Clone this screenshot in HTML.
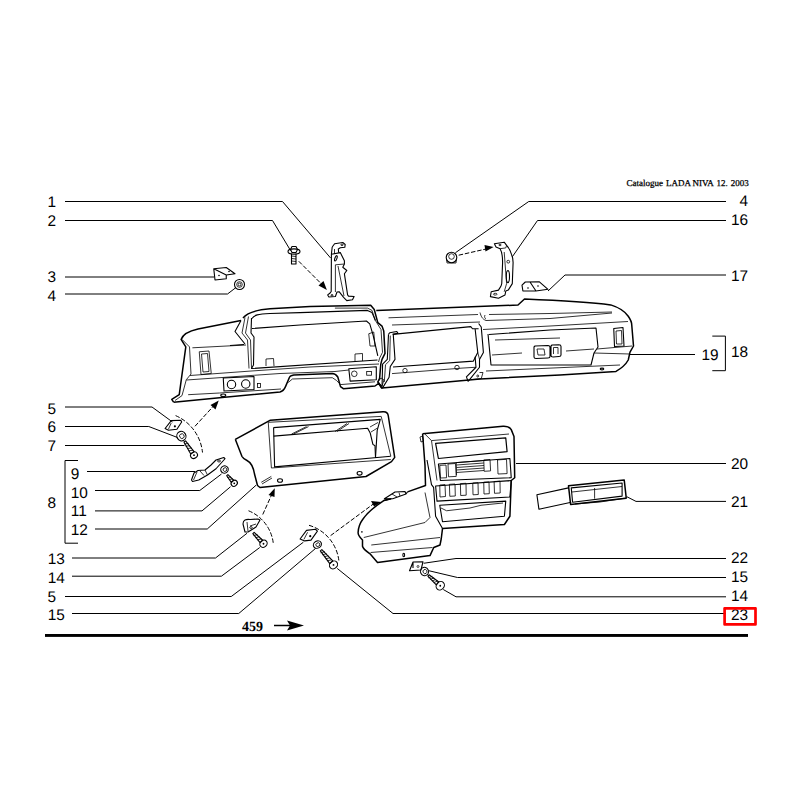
<!DOCTYPE html>
<html><head><meta charset="utf-8"><style>
html,body{margin:0;padding:0;background:#fff;width:800px;height:800px;overflow:hidden}
svg{position:absolute;left:0;top:0}
text{font-family:"Liberation Sans",sans-serif;font-size:15.4px;fill:#000;text-rendering:geometricPrecision}
.cat{font-family:"Liberation Serif",serif;font-size:9px;stroke:#000;stroke-width:0.25}
.pg{font-family:"Liberation Serif",serif;font-weight:bold;font-size:14px}
.l{fill:none;stroke:#000;stroke-width:1}
.p{fill:#fff;stroke:#000;stroke-width:1;stroke-linejoin:round}
.t{fill:none;stroke:#000;stroke-width:0.8}
.o{fill:none;stroke:#000;stroke-width:1.5;stroke-linejoin:round}
.m{fill:none;stroke:#000;stroke-width:1.1;stroke-linejoin:round}
.d{fill:none;stroke:#000;stroke-width:1;stroke-dasharray:4.5 1.8}
</style></head><body>
<svg width="800" height="800" viewBox="0 0 800 800">
<!-- header -->
<g class="catg"><text class="cat" x="626.5" y="186">Catalogue</text><text class="cat" x="666" y="186">LADA</text><text class="cat" x="692.4" y="186">NIVA</text><text class="cat" x="716.6" y="186">12.</text><text class="cat" x="730.7" y="186">2003</text></g>
<!-- LEFT LABELS -->
<g id="leftlabels" transform="translate(0,-0.5)">
<text x="47.5" y="207">1</text>
<text x="47.5" y="226.5">2</text>
<text x="47.5" y="282">3</text>
<text x="47.5" y="301">4</text>
<text x="47.5" y="414">5</text>
<text x="47.5" y="432">6</text>
<text x="47.5" y="451">7</text>
<text x="47.5" y="508">8</text>
<text x="70.8" y="479">9</text>
<text x="70.8" y="498">10</text>
<text x="70.8" y="516">11</text>
<text x="70.8" y="535">12</text>
<text x="47.7" y="564.5">13</text>
<text x="47.7" y="583.5">14</text>
<text x="47.5" y="602">5</text>
<text x="47.7" y="620.5">15</text>
</g>
<g id="rightlabels" text-anchor="end" transform="translate(0,-0.5)">
<text x="748" y="206">4</text>
<text x="748" y="225.5">16</text>
<text x="748" y="281">17</text>
<text x="718.5" y="360">19</text>
<text x="748" y="357">18</text>
<text x="748" y="469">20</text>
<text x="748" y="507">21</text>
<text x="748" y="563.5">22</text>
<text x="748" y="582">15</text>
<text x="748" y="601.5">14</text>
<text x="748" y="620.5">23</text>
</g>
<g id="leaders" class="l">
<polyline class="l" points="65,201.5 282.5,201.5 330.6,258"/>
<polyline class="l" points="65,220.5 272.5,220.5 290.6,250.6"/>
<polyline class="l" points="65,277 214,277"/>
<polyline class="l" points="65,294 227.5,294 236,287.5"/>
<polyline class="l" points="65,407 152,407 172.5,422"/>
<polyline class="l" points="65,426.5 148.75,426.5 177.5,437.5"/>
<polyline class="l" points="65,445.5 184.4,445.5"/>
<polyline class="l" points="78,460.5 65,460.5 65,543.2 78,543.2"/>
<polyline class="l" points="87,471.5 195,471.5"/>
<polyline class="l" points="95,490.5 199.75,490.5 221.5,474"/>
<polyline class="l" points="95,510.9 202,510.9 230.5,486.75"/>
<polyline class="l" points="95,529 207.25,529 256,485.25"/>
<polyline class="l" points="72,558 215.5,558 247,533.25"/>
<polyline class="l" points="72,576.2 221.4,576.2 259.75,547.5"/>
<polyline class="l" points="65,596.5 231.25,596.5 303.4,542.2"/>
<polyline class="l" points="72,613.5 238.75,613.5 315.6,548.4"/>
<!-- right -->
<polyline class="l" points="726,201.5 528.75,201.5 455.4,252.75"/>
<polyline class="l" points="726,220.5 537.5,220.5 512.3,256.8"/>
<polyline class="l" points="726,275 565,275 548,291"/>
<polyline class="l" points="630,354.5 695,354.5"/>
<polyline class="l" points="712.3,336.1 725.4,336.1 725.4,370.7 712.3,370.7"/>
<polyline class="l" points="726,463.5 516,463.5"/>
<polyline class="l" points="726,501.4 636,501.4 627,496.8"/>
<polyline class="l" points="726,558.5 456,558.5 423.75,563.25"/>
<polyline class="l" points="726,577.5 457.5,577.5 429,570.75"/>
<polyline class="l" points="726,596.8 456,596.8 443.25,589.5"/>
<polyline class="l" points="726,613.5 393,613.5 337.2,568.4"/>
</g>
<rect x="724.6" y="608.3" width="30.9" height="16.1" fill="none" stroke="#ff0000" stroke-width="2.7" stroke-linejoin="round"/>
<!-- page ref -->
<text class="pg" x="242" y="631">459</text>
<line x1="274" y1="625.5" x2="292" y2="625.5" stroke="#000" stroke-width="1.5"/>
<path d="M287,620.5 L304,625.5 L287,630.5 L290,625.5 Z" fill="#000"/>
<rect x="45" y="634" width="703" height="2.9" fill="#000"/>
<g id="parts">
<g id="dash">
<!-- outer silhouette -->
<path class="o" d="M173.6,402.2 L171.75,399.4 L179.25,394.7 L185.8,346.9 L181.1,339.4 C183,334 189,331 198,329 L241,320.5"/>
<path class="t" d="M182,339.4 L189.5,346.9 L191,374 L186.3,379.7 L182,395.6 L175,400.5"/>
<path class="o" d="M243,318 C247,313 254,310 270,308.75 L310,306.5 L370.7,305.3 L374.25,309.5 L377.8,322.6 L382,326.1 L383.75,330.9 L385,353.4 L382,359.4 L380.8,364.1 L379.6,378.4 L377.8,382 L382,388.5"/>
<path class="o" d="M376.25,310.6 L518,305 L524.5,299 C560,300.5 600,303.5 610.75,304.9 C619,307.5 625,311.5 628.25,316.25 C630.5,319.5 631.75,322 631.75,325 L633.5,346 L630,352.2 L628.25,360 C626,364 622,368 616,371.4 L560,375 L480,379 L382,388"/>
<path class="o" d="M381.25,387.5 L379,383.2 L375,386 L343.3,388.7 L340.5,386.6 L337.8,377 C336,374.5 334.5,373.6 332.3,373.6 L293.75,375 C291,375.5 290,376 289.6,377 L285.5,386.6 C284,390 282,391.5 280,392 L219.5,397.8 L173.6,402.2"/>
<!-- hood opening -->
<path class="t" d="M334.9,308.1 L367.5,308.1 L372,310.4 L375.4,320.5 L381,329.5 L382.5,352.3 L379.6,358.2 L378.5,362"/>
<path class="m" d="M252,318.5 C254,315 258,314 270,313.5 L300,312.6 L367.5,310.4 L372,312.6 L375.4,320.5"/>
<path class="m" d="M251.5,318 L251,333 L254,337 L253.5,365 L251.5,368.5 L377.5,360"/>
<path class="m" d="M252,328.5 L300,325 L366.4,321 L369.75,323.9 L373.1,335.1 L377.8,355.8"/>
<path class="t" d="M245,317.5 L242,333 L247.5,340 L249,368.5"/>
<path class="t" d="M248.5,316.5 L245.5,333 L250.5,340 L251.5,368"/>
<path class="m" d="M241,320.5 L235,331.5 L245,344 M230,345.5 L244,344.5"/>
<path class="t" d="M368.75,333.75 L373.75,332 L375,346 L370,346 Z"/>
<path class="t" d="M266,366 L266,359 L273.5,358.5 L274,366 M355,361.25 L355,354 L362.5,353.5 L362.5,361"/>
<!-- lower panel lines -->
<path class="t" d="M190,375.5 L250,371.1 L310,367 L379,364"/>
<path class="t" d="M186.5,380 L254.5,375.25 L280,373.5 L335,371.5 L348.8,370"/>
<path class="t" d="M288.25,382.5 L292.4,379 L332.3,377.7 L336.4,380.4 L340.5,384.6 L375,381.8"/>
<path class="t" d="M188.15,394.7 L219.5,393 L281,389"/>

<!-- left section inner -->
<path class="t" d="M192.4,347.8 L246,345"/>
<path class="t" d="M199.25,351.75 L209,351 L211.25,373.5 L201,374.5 Z M201.5,354 L207.5,353.5 L209,371.5 L203,372 Z"/>
<path class="m" d="M223.25,378 L254,376.5 L254,389.5 L224,391 Z"/>
<circle class="m" cx="231.5" cy="384.5" r="4.2"/>
<circle class="m" cx="245.75" cy="384" r="4.2"/>
<rect class="t" x="257.5" y="383.5" width="3" height="4"/>
<ellipse class="m" cx="223.25" cy="395.25" rx="2.5" ry="1.3"/>
<!-- light switch -->
<path class="m" d="M348.8,368.75 L376.3,366.7 L376.3,379.75 L350.15,381.1 Z"/>
<circle class="t" cx="354.3" cy="373.8" r="2.8"/>
<rect class="t" x="366.7" y="371.5" width="4.8" height="3.7"/>
<!-- center column -->
<path class="m" d="M388.5,334.4 L387.3,359.4 L382.6,364.1 L382,388.5"/>
<path class="m" d="M388.5,334.4 L389.7,332.7 L396.8,331.5 L398,333.25 L392.7,334.4 M393.25,334.4 L395,359.4 L390.3,366.5 L389.1,377.2 L382.6,387.9"/>
<path class="t" d="M390.3,335.6 L389.7,360.6 L385.5,364.7 L384.3,382"/>
<path class="t" d="M377.8,382 L381,378 L384,380 L382,386 Z"/>
<path class="t" d="M388.5,317.8 L478,314.5 M392,325 L480,322"/>
<!-- radio opening -->
<path class="m" d="M392.7,334.4 L470.75,326.6 L472.5,328.75 L478.6,328.75 M475.1,328.75 L477.75,352.4 L473.4,361.1 L393,367"/>
<path class="t" d="M392,373.6 L462,368.1 L476,367.25"/>
<circle class="t" cx="405" cy="370.6" r="2.2"/>
<circle class="t" cx="457" cy="367.5" r="2.2"/>
<!-- right column -->
<path class="m" d="M478.6,323.5 L481.25,327 L483.4,352.4 L479.5,359.4 L479.5,367.25 L469,380.4 L468.1,381.25 L466.4,376.9 L476,367.25 L475.1,356.75"/>
<path class="t" d="M477.75,352.4 L479.5,359.4 M479.5,372.5 L483,372.5 L481.25,378.6 L472.5,379.5"/>
<circle class="t" cx="477.75" cy="376" r="1"/>
<!-- right section -->
<path class="t" d="M489,314.5 L550,313.5 L612,312 M480,312.5 C481,316 482,319 486,320.5 L550,318.5 L612,313 M485,315 C484,317 485,318.5 486,319"/>
<path class="t" d="M483,329.5 L550,326 L628,321.5"/>
<path class="m" d="M489,334.5 L550,330 L596,328 L598,347 L594,353 L591,365 L491,365 L488,334"/>
<path class="t" d="M597,349 L632,346 M594,353 L630,354 M486,371 L620,365 M492,355 L522,353 M566,351 L594,349 M495,340 L560,338"/>
<path class="m" d="M535,346 L548,345.5 C549.5,345.5 550,346.5 550,347.5 L550,356.5 C550,357.5 549,358 548,358 L536,358.5 C535,358.5 534,358 534,357 L534,347 Z M552,345 L559,344.7 C560,344.7 561,345.5 561,346.5 L561,355 C561,356 560,356.5 559,356.5 L553,357 C552,357 551,356.5 551,355.5 L551,346 Z"/>
<path class="t" d="M537,349 L544,349 L545,355 L538,355 Z M553.5,347.5 L558,347.5 L558,354 M553.5,347.5 L553.5,354"/>
<path class="m" d="M613.75,328.5 L623,327.5 L624,346 L614.5,346.5 Z"/>
<path class="t" d="M616,331 L621.5,330.5 L622,344 L616.5,344 Z"/>
<ellipse class="m" cx="602" cy="369" rx="1.8" ry="0.9"/>
</g>

<g id="cluster">
<path class="o" d="M235.3,439.3 L270.4,420.2 L383,411.7 C386,411.5 388,413 388.3,416 L394.7,457.4 L391.5,461.6 L366,476.5 L260,487.5 L257.5,485.5 L254.5,474 C253.5,468 252,463 247,460.5 C244,459 242.5,457.5 242,456.5 L235.3,439.3"/>
<path class="t" d="M268.25,422.3 L381.2,416.4 L390.8,456.2 M268.25,422.3 L271.4,468 L390.8,459.5"/>
<path class="m" d="M273.6,427.6 L380.3,419.4 L377.2,430.4 L375.5,457.5 M273.6,427.6 L274.6,466.9 L390.8,456.2"/>
<path class="m" d="M273.6,436.1 L367.6,428.2 L370.2,433 L372.9,444.4 L375,445.7 L375.5,457.5"/>
<path class="t" d="M291.6,434 L306.5,426.6 M293.6,434 L308.5,426.6 M335,431.5 L347,423.5 M337,431.5 L349,423.5 M370,427 L378,422.5 M371,432 L377.5,428"/>
<path class="t" d="M261.25,482.3 L271.25,476.4 M262,484 L272,478"/>
<ellipse class="m" cx="280" cy="480.5" rx="2.5" ry="1.8"/>
<ellipse class="m" cx="359.6" cy="473.3" rx="2.5" ry="1.8"/>
</g>
<g id="console">
<path class="o" d="M422.6,433.75 L503,426.2 C507,426 510,427.5 511.25,429.6 L514,436.5 L514.7,477.75 L511.25,480.5 L509.9,516.25 L504.4,524.5 L442.5,528.6 L441.25,538.75 L440,545 L433.75,547.5 L430,555.6 L377.5,562.5 L370,553.75 C366,551 363,549 362.5,546.25 L362.5,540 C359.5,537 358,535 358.1,532.5 C358.3,528 360,523 363,519 C367,513 374,507 383.75,500.6 L391.25,498.75 M407.5,491.9 L425.5,485.5 L425,465.4 L422.6,433.75"/>
<path class="m" d="M383.75,500.6 L391.25,498.75 M406,494 L407.5,491.9 M384.4,498.7 L395,492 L405,491.5 L406,494 L392.7,498.7 Z"/><path class="t" d="M392,494 L397,497 M399,492.5 L400,496"/>
<path class="t" d="M420,437 L422.6,436 L423.5,441 L421,442 Z"/>
<path class="t" d="M424.6,433.75 L431.5,440.6 L437,480.5 M431.5,440.6 L509,434"/>
<path class="m" d="M427,460 L431.5,484.6 L433.6,487.4 L435.6,516.25 L442.5,528.6"/>
<path class="t" d="M425,492.5 L430,517.5 L425,522.5 L363.75,537.5 M371.25,545 L440,537.5 M370.6,552.5 L432.5,547.5"/>
<path class="o" d="M435.6,443.4 L505.75,437.9 L507.1,451.6 L438.4,458.5 Z" style="stroke-width:1.2"/>
<path class="m" d="M438.4,464 L509.9,458.5 L511.25,477.75 L440.4,480.5 Z"/>
<path class="t" d="M439.75,465.4 L446,465 L446.6,477.75 L440.5,478 Z M448,464 L455.5,463.5 L456.25,476.4 L448.5,476.8 Z M483.75,459.9 L490,459.5 L490.6,470.9 L484.2,471.3 Z M497.5,459.9 L506.5,459.3 L507.1,473.6 L498,474 Z"/>
<path class="t" d="M456.25,462.6 L483.75,460.5 M456.5,465 L483.75,463 M456.5,467.5 L484,465.5 M456.5,470 L484,468 M456.5,472.5 L484,470.5 M456.25,462.6 L456.5,475"/>
<path class="m" d="M435.6,486 L511.25,480.5 L509.9,497 L437,501.1 Z"/>
<path class="t" d="M439.75,485 L445,484.6 L445.5,496.5 L440,497 Z M449.4,484.3 L455,484 L455.3,496 L449.8,496.3 Z M460.4,483.6 L466,483.3 L466.2,495.2 L460.7,495.5 Z M472.75,483 L478,482.7 L478.3,494.5 L473,494.8 Z M483.75,482.2 L489,482 L489.3,493.7 L484,494 Z M494.1,481.5 L500,481.2 L500.2,493 L494.5,493.3 Z"/>
<path class="m" d="M439.75,505.25 L505.75,501.1 L504.4,516.25 L442.5,521.75 Z"/>
<path class="t" d="M441,508 L446.6,510.75 L470,508 L481,505.25 L503,503"/>
<ellipse class="m" cx="403.75" cy="555" rx="0.9" ry="1.8"/>
<circle cx="361.9" cy="531.9" r="0.8" fill="#000"/>
</g>
<g id="p21">
<path class="m" d="M568.5,487.9 L536.9,494.75 L538.9,509.2 L571.25,502.3"/>
<path class="o" d="M568.5,485.8 L624.2,479.9 L626.25,498.2 L570.6,504.4 Z"/>
<path class="m" d="M571.25,487.9 L622.1,483 L622.1,496.1 L572.6,502.3 Z"/>
<path class="t" d="M572,492 L622,486.5 M594.6,488 L594.6,498.7"/>
<path class="t" d="M575,504 L600,502 L626,498"/>
</g>
<g id="brackets">
<!-- bracket 3 -->
<path class="m" d="M213.75,268.75 L226.25,267.5 L235,273.75 L226.25,275 L226.25,278.75 L215,280 Z M213.75,268.75 L226.25,275"/>
<circle cx="229" cy="271.5" r="0.8" fill="#000"/><circle cx="219" cy="275.5" r="0.8" fill="#000"/>
<!-- nut 4 left -->
<circle class="m" cx="239.5" cy="284.5" r="5"/>
<circle class="t" cx="239.5" cy="284.5" r="2.8"/>
<circle class="t" cx="239.5" cy="284.5" r="1.4"/>
<!-- bolt 2 -->
<path class="m" d="M288,251.5 C288,248 300,248 300,251.5 C300,255 288,255 288,251.5 Z"/>
<path class="m" d="M290.5,249.5 L292,246.5 L296,246.5 L297.5,249.5 L296,252.5 L292,252.5 Z"/>
<path class="m" d="M291.5,253.5 L291.5,264 L296,264 L296,253.5"/>
<path class="t" d="M291.5,256 L296,256.5 M291.5,258.5 L296,259 M291.5,261 L296,261.5"/>
<!-- bracket 1 -->
<path class="m" d="M332.2,247 L334.6,243.7 L342.8,242.5 L345.2,244.5 L344.8,247.3 L340.3,247.75 L338.3,249 L338.7,252.6"/>
<path class="m" d="M332.2,247 L331.4,254.3 L331.2,291.5 L329.8,293.3 L327.7,294.9 L328.9,297 L335.4,296.5 L337,292 L339.1,291.7 L343.6,297.3 L346.8,300.6 L352.5,299.8 L354.1,296.5 L348.5,296.1 L347.6,294.9 L344.4,273.8 L346.8,270.5 L342.8,267.3 L344.4,264 L344.4,260.8 L340.3,252.6 L331.4,254.3"/>
<path class="t" d="M335.4,264.8 L335.4,292 M338,266 L344,296 M335.4,264.8 L344.4,264 M334.5,249 L334.5,254"/>
<ellipse class="t" cx="342" cy="244.8" rx="1.3" ry="0.7"/>
<ellipse class="m" cx="335.9" cy="258.3" rx="1" ry="2.8" transform="rotate(20 335.9 258.3)"/>
<ellipse class="t" cx="332" cy="295.2" rx="1.2" ry="0.6"/>
<!-- nut 4 right -->
<circle class="m" cx="451.5" cy="257.5" r="5.3"/>
<circle class="t" cx="451.5" cy="256.5" r="2.8"/>
<path class="t" d="M446.5,259 L447,263 L456,263 L456.5,259"/>
<!-- bracket 16 -->
<path class="m" d="M494.4,243.8 L504.2,242.2 L506.6,245.4 C509,248 510.5,251 511.5,254.4 C512.8,257 513.1,259 513.1,262.5 L512.3,283.6 L508.25,290.1 L505.8,291 L505,295 L498.5,298.25 L490.4,296.6 L491.2,291.75 L498.5,290.1 C500.5,287 501.75,285.5 501.75,283.6 L502.6,262.5 C502.6,256 501.5,251 500.1,248.7 L496,247 Z"/>
<path class="t" d="M500.1,248.7 L505.8,247.9 L506.6,245.4 M504.2,252 L506.6,283.6 L504.2,291.75"/>
<circle class="t" cx="508.25" cy="261.7" r="1.4"/>
<ellipse class="m" cx="507.9" cy="276.6" rx="1.6" ry="6" />
<ellipse class="t" cx="495.25" cy="294.2" rx="1.8" ry="0.9"/>
<ellipse class="t" cx="500" cy="245" rx="1.2" ry="0.7"/>
<!-- bracket 17 -->
<path class="m" d="M522,285.2 L525.3,282 L539.1,281.7 L548,289.3 L535.9,291 L522.9,291 Z M530,282 L536,291"/>
<circle cx="538" cy="286" r="0.8" fill="#000"/><circle cx="528" cy="288" r="0.8" fill="#000"/>
</g>
<g id="small">
<!-- clip 5 top -->
<path class="m" d="M165.1,428.5 L171.25,420.6 L180.8,420.3 L181.65,422 L176.9,429.3 L168.4,430.2 Z"/><path class="t" d="M171.25,422.9 L168.4,429.3"/><circle cx="174.9" cy="426.3" r="1.1" fill="#000"/>
<!-- washer 6 -->
<ellipse class="m" cx="181.4" cy="436.1" rx="4.5" ry="4.8" transform="rotate(-30 181.4 436.1)"/><ellipse class="t" cx="181.8" cy="436.40000000000003" rx="2.25" ry="2.40" transform="rotate(-30 181.4 436.1)"/>
<!-- screw 7 -->
<path class="m" d="M183.92,441.96 L190.74,453.92 L194.06,451.69 L185.58,440.84 Z"/><path class="t" d="M184.06,443.96 L188.50,443.40 M185.59,446.25 L190.03,445.68 M187.12,448.53 L191.56,447.96 M188.65,450.81 L193.09,450.24 "/><ellipse class="m" cx="194.00" cy="455.20" rx="3.06" ry="3.60" transform="rotate(56.2 194.00 455.20)"/><circle cx="194.00" cy="455.20" r="0.9" fill="#000"/>
<!-- bracket 9 -->
<path class="m" d="M191.5,480 L194,473 L198,470.5 L205,470 L211,465 L216,460 L223.75,457.5 L225,458.75 L216,468.75 L207.5,475 L198.75,480 L192.5,481.5 Z"/><path class="t" d="M197,472 L193.5,480 M200,471 L204,475.5 M205,470 L207.5,475"/>
<ellipse class="t" cx="219" cy="461" rx="1.5" ry="1"/>
<!-- washer 10 -->
<ellipse class="m" cx="224.5" cy="469.5" rx="3.8" ry="3.6" transform="rotate(-30 224.5 469.5)"/><ellipse class="t" cx="224.9" cy="469.8" rx="1.90" ry="1.80" transform="rotate(-30 224.5 469.5)"/>
<!-- screw 11 -->
<path class="m" d="M226.69,475.72 L231.32,482.34 L233.75,480.25 L227.91,474.68 Z"/><path class="t" d="M227.18,477.52 L230.91,476.95 M228.92,479.55 L232.65,478.98 "/><ellipse class="m" cx="234.25" cy="483.30" rx="2.80" ry="3.30" transform="rotate(49.4 234.25 483.30)"/><circle cx="234.25" cy="483.30" r="0.9" fill="#000"/>
<!-- clip 13 -->
<path class="m" d="M243,524 C243,520 246,519 250,519.5 L258,519 L260,520 L256,527 L248,532 L245,532 Z"/>
<path class="t" d="M247,522 L248,531 M250,526 L256,524"/>
<ellipse class="t" cx="251" cy="527.5" rx="1.3" ry="0.9"/>
<!-- screw 14 left -->
<path class="m" d="M252.84,533.61 L260.06,542.69 L262.69,540.24 L254.16,532.39 Z"/><path class="t" d="M253.47,535.61 L257.47,534.62 M255.44,537.73 L259.44,536.74 M257.41,539.84 L261.41,538.86 "/><ellipse class="m" cx="263.50" cy="543.75" rx="3.31" ry="3.90" transform="rotate(47.1 263.50 543.75)"/><circle cx="263.50" cy="543.75" r="0.9" fill="#000"/>
<!-- clip 5 bottom -->
<path class="m" d="M300.1,539 L306.5,530.4 L315.5,529.25 L317.4,531.1 L311,540.1 L304.6,540.9 Z"/><path class="t" d="M307.6,532.25 L303.9,539.4"/><circle cx="310.25" cy="536.2" r="1.1" fill="#000"/>
<!-- washer 15 -->
<ellipse class="m" cx="317.4" cy="544.6" rx="4.2" ry="3.5" transform="rotate(-30 317.4 544.6)"/><ellipse class="t" cx="317.79999999999995" cy="544.9" rx="2.10" ry="1.75" transform="rotate(-30 317.4 544.6)"/>
<!-- screw 23 -->
<path class="m" d="M320.34,550.90 L329.75,563.57 L332.80,560.98 L321.86,549.60 Z"/><path class="t" d="M320.62,552.78 L324.97,551.73 M322.32,554.79 L326.67,553.73 M324.02,556.79 L328.36,555.73 M325.71,558.80 L330.06,557.74 M327.41,560.80 L331.75,559.74 "/><ellipse class="m" cx="333.50" cy="564.90" rx="3.65" ry="4.30" transform="rotate(49.8 333.50 564.90)"/><circle cx="333.50" cy="564.90" r="0.9" fill="#000"/>
<!-- clip 22 -->
<path class="m" d="M409.5,570.75 L413,562 L423,561.75 L421,570 Z M413,562 L413,568"/>
<circle cx="418" cy="566.5" r="1" fill="none" stroke="#000" stroke-width="0.7"/>
<!-- washer 15 right -->
<ellipse class="m" cx="424.5" cy="571.5" rx="4" ry="4.2" transform="rotate(-30 424.5 571.5)"/><ellipse class="t" cx="424.9" cy="571.8" rx="2.00" ry="2.10" transform="rotate(-30 424.5 571.5)"/>
<!-- screw 14 right -->
<path class="m" d="M427.88,576.22 L436.29,584.82 L438.79,581.95 L429.12,574.78 Z"/><path class="t" d="M428.30,577.85 L432.31,576.30 M430.11,579.43 L434.12,577.88 M431.92,581.00 L435.92,579.46 M433.73,582.58 L437.73,581.03 "/><ellipse class="m" cx="440.25" cy="585.75" rx="3.82" ry="4.50" transform="rotate(41.1 440.25 585.75)"/><circle cx="440.25" cy="585.75" r="0.9" fill="#000"/>
</g>
<g id="dashes">
<path class="d" d="M175.6,415.6 A45,45 0 0 1 202.5,452.5"/>
<path class="d" d="M195,426.25 L214,405.5"/>
<path d="M218.75,400.6 L210.5,405 L215.5,409.5 Z" fill="#000"/>
<path class="d" d="M248.5,510.75 A40,40 0 0 1 273.25,543"/>
<path class="d" d="M262.75,514.5 L272,494"/>
<path d="M274.75,488.25 L268.5,495 L274.5,497 Z" fill="#000"/>
<path class="d" d="M309,525.3 A42,42 0 0 1 339,561.9"/>
<path class="d" d="M330.6,535.6 L374,503.5"/>
<path d="M381.25,501.9 L371,501 L374,506.5 Z" fill="#000"/>
<path class="d" d="M298.75,261.25 L322,284.5"/>
<path d="M326.9,290 L318.5,285.5 L323.5,281 Z" fill="#000"/>
<path class="d" d="M458.7,255.2 L486,249"/>
<path d="M493.6,247 L484.5,245 L485.5,251.5 Z" fill="#000"/>
</g>
</g>
</svg>
</body></html>
